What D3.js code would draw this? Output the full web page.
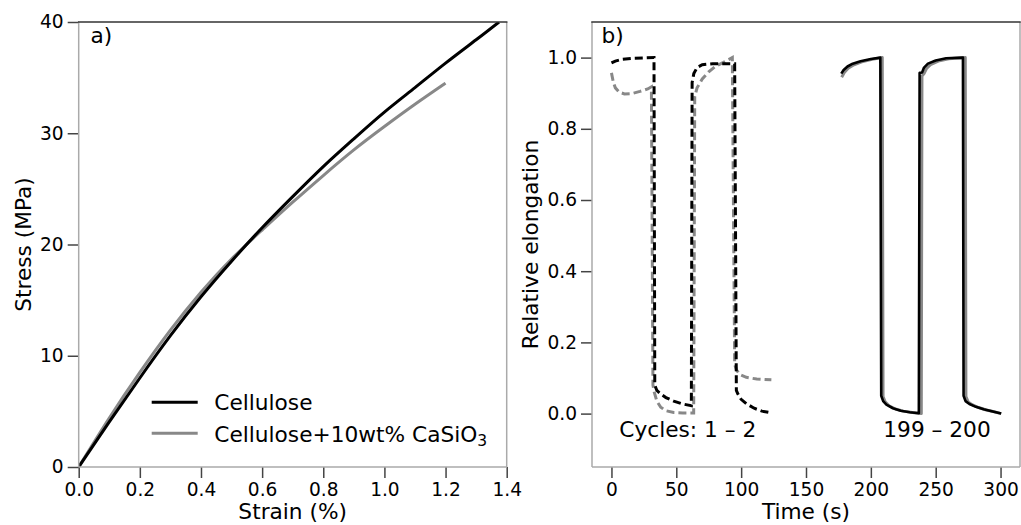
<!DOCTYPE html>
<html>
<head>
<meta charset="utf-8">
<script src="https://cdn.jsdelivr.net/npm/d3@7"></script>
<style>
body { margin: 0; background: #fff; }
svg { display: block; font-family: "DejaVu Sans", sans-serif; }
</style>
</head>
<body>
<svg id="chart" width="1021" height="525"></svg>
<script>
// ---- Panel a) data: stress-strain ----
const strainCell = [0, 0.1, 0.2, 0.3, 0.4, 0.5, 0.6, 0.7, 0.8, 0.9, 1.0, 1.1, 1.2, 1.3, 1.375];
const stressCell = [0, 4.05, 8.0, 11.8, 15.3, 18.5, 21.5, 24.3, 27.0, 29.5, 31.9, 34.1, 36.3, 38.4, 40.0];
const strainComp = [0, 0.1, 0.2, 0.3, 0.4, 0.5, 0.6, 0.7, 0.8, 0.9, 1.0, 1.1, 1.2];
const stressComp = [0, 4.4, 8.5, 12.3, 15.7, 18.7, 21.3, 23.8, 26.2, 28.5, 30.6, 32.6, 34.5];
const seriesNamesA = ["Cellulose", "Cellulose+10wt% CaSiO"];

const strainTicks = [0, 0.2, 0.4, 0.6, 0.8, 1.0, 1.2, 1.4];
const stressTicks = [0, 10, 20, 30, 40];

// ---- Panel b) data: relative elongation vs time ----
// cycles 1-2 (dashed)
const dashBlackT = [0, 3, 8, 16, 25, 32.8, 33.4, 35, 38, 42, 48, 55, 61.6, 62.2, 63.5, 66, 70, 78, 95, 96.3, 97.5, 100, 104, 110, 116, 123.3];
const dashBlackE = [0.985, 0.99, 0.995, 0.998, 0.999, 1.0, 0.08, 0.065, 0.055, 0.045, 0.035, 0.027, 0.022, 0.93, 0.955, 0.972, 0.98, 0.983, 0.983, 0.065, 0.055, 0.04, 0.028, 0.015, 0.007, 0.002];
const dashGrayT = [0, 1.5, 3, 6, 10, 16, 22, 28, 30.8, 32, 33, 35, 38, 42, 48, 55, 63.4, 64.2, 66, 70, 75, 80, 86, 93.2, 95, 96.5, 99, 104, 112, 123.3];
const dashGrayE = [0.957, 0.93, 0.915, 0.903, 0.898, 0.899, 0.905, 0.912, 0.918, 0.08, 0.06, 0.035, 0.018, 0.008, 0.003, 0.002, 0.002, 0.89, 0.915, 0.94, 0.96, 0.975, 0.986, 1.0, 0.138, 0.122, 0.11, 0.102, 0.097, 0.095];
// cycles 199-200 (solid)
const solidBlackT = [177.2, 179, 182, 186, 192, 200, 207.3, 208, 209.5, 212, 217, 223, 230, 237, 237.6, 239.5, 241, 244, 250, 258, 271, 271.5, 273, 276, 281, 287, 294, 300.5];
const solidBlackE = [0.955, 0.965, 0.975, 0.983, 0.99, 0.996, 1.0, 0.05, 0.035, 0.025, 0.015, 0.008, 0.004, 0.001, 0.957, 0.958, 0.972, 0.983, 0.992, 0.998, 1.0, 0.05, 0.035, 0.027, 0.019, 0.012, 0.006, 0.0];
const solidGrayT = [177.5, 179.5, 182.5, 187, 193, 201, 208.8, 209.4, 211, 214, 219, 225, 232, 238.9, 239.4, 241, 243, 246, 252, 260, 272.8, 273.3, 275, 278, 283, 289, 295, 300.5];
const solidGrayE = [0.945, 0.958, 0.97, 0.98, 0.988, 0.995, 1.0, 0.048, 0.033, 0.022, 0.013, 0.007, 0.003, 0.0, 0.948, 0.955, 0.97, 0.98, 0.99, 0.997, 1.0, 0.048, 0.033, 0.025, 0.017, 0.01, 0.005, 0.0];

const timeTicks = [0, 50, 100, 150, 200, 250, 300];
const elongTicks = [0, 0.2, 0.4, 0.6, 0.8, 1.0];
const annotB = ["Cycles: 1 \u2013 2", "199 \u2013 200"];

// ---- drawing ----
const svg = d3.select("#chart");
const BLACK = "#000", GRAY = "#888888";
const TOP = 22, BOTTOM = 467;
const TICK_FS = "18.6px", LABEL_FS = "21.7px";

function spines(g, x0, x1) {
  g.append("line").attr("x1", x0).attr("x2", x0).attr("y1", TOP).attr("y2", BOTTOM).attr("stroke", "#aaa").attr("stroke-width", 1.5);
  g.append("line").attr("x1", x1).attr("x2", x1).attr("y1", TOP).attr("y2", BOTTOM).attr("stroke", "#aaa").attr("stroke-width", 1.5);
  g.append("line").attr("x1", x0).attr("x2", x1).attr("y1", BOTTOM).attr("y2", BOTTOM).attr("stroke", "#aaa").attr("stroke-width", 1.5);
  g.append("line").attr("x1", x0 - 0.75).attr("x2", x1 + 0.75).attr("y1", TOP).attr("y2", TOP).attr("stroke", "#333").attr("stroke-width", 1.5);
}

function styleAxis(sel) {
  sel.select(".domain").remove();
  sel.selectAll(".tick line").attr("stroke", "#444").attr("stroke-width", 1.5);
  sel.selectAll(".tick text").attr("fill", "#000").style("font-size", TICK_FS).style("font-family", "DejaVu Sans, sans-serif");
}

// Panel a
const xa = d3.scaleLinear().domain([0, 1.4]).range([78.7, 506.7]);
const ya = d3.scaleLinear().domain([0, 40]).range([BOTTOM, TOP]);
const ga = svg.append("g");

svg.append("clipPath").attr("id", "clipA").append("rect")
  .attr("x", xa.range()[0]).attr("y", TOP).attr("width", xa.range()[1] - xa.range()[0]).attr("height", BOTTOM - TOP);

ga.append("g").attr("transform", `translate(0,${BOTTOM})`)
  .call(d3.axisBottom(xa).tickValues(strainTicks).tickFormat(d3.format(".1f")).tickSize(11).tickPadding(5).tickSizeOuter(0))
  .call(styleAxis);
ga.append("g").attr("transform", `translate(${xa.range()[0]},0)`)
  .call(d3.axisLeft(ya).tickValues(stressTicks).tickFormat(d3.format("d")).tickSize(11).tickPadding(4).tickSizeOuter(0))
  .call(styleAxis);

const lineA = d3.line().x(d => xa(d[0])).y(d => ya(d[1])).curve(d3.curveNatural);
const plotA = ga.append("g").attr("clip-path", "url(#clipA)");
plotA.append("path").datum(strainComp.map((s, i) => [s, stressComp[i]]))
  .attr("d", lineA).attr("fill", "none").attr("stroke", GRAY).attr("stroke-width", 3);
plotA.append("path").datum(strainCell.map((s, i) => [s, stressCell[i]]))
  .attr("d", lineA).attr("fill", "none").attr("stroke", BLACK).attr("stroke-width", 3);
spines(ga, xa.range()[0], xa.range()[1]);

// legend a
const leg = ga.append("g");
leg.append("line").attr("x1", 151.7).attr("x2", 197.7).attr("y1", 402.3).attr("y2", 402.3).attr("stroke", BLACK).attr("stroke-width", 3);
leg.append("line").attr("x1", 151.7).attr("x2", 197.7).attr("y1", 433.3).attr("y2", 433.3).attr("stroke", GRAY).attr("stroke-width", 3);
leg.append("text").attr("x", 214.3).attr("y", 410).style("font-size", LABEL_FS).text(seriesNamesA[0]);
const t2 = leg.append("text").attr("x", 214.3).attr("y", 442.2).style("font-size", LABEL_FS);
t2.append("tspan").text(seriesNamesA[1]);
t2.append("tspan").attr("dy", 4).style("font-size", "15.5px").text("3");

ga.append("text").attr("x", 90.5).attr("y", 43).style("font-size", LABEL_FS).text("a)");
ga.append("text").attr("x", (xa.range()[0] + xa.range()[1]) / 2).attr("y", 519).attr("text-anchor", "middle").style("font-size", LABEL_FS).text("Strain (%)");
ga.append("text").attr("transform", `translate(31,${(TOP + BOTTOM) / 2}) rotate(-90)`).attr("text-anchor", "middle").style("font-size", LABEL_FS).text("Stress (MPa)");

// Panel b
const xb = d3.scaleLinear().domain([-15, 315]).range([592, 1020]);
const yb = d3.scaleLinear().domain([-0.15, 1.1]).range([BOTTOM, TOP]);
const gb = svg.append("g");

gb.append("g").attr("transform", `translate(0,${BOTTOM})`)
  .call(d3.axisBottom(xb).tickValues(timeTicks).tickFormat(d3.format("d")).tickSize(11).tickPadding(5).tickSizeOuter(0))
  .call(styleAxis);
gb.append("g").attr("transform", `translate(${xb.range()[0]},0)`)
  .call(d3.axisLeft(yb).tickValues(elongTicks).tickFormat(d3.format(".1f")).tickSize(11).tickPadding(4).tickSizeOuter(0))
  .call(styleAxis);

const lineB = d3.line().x(d => xb(d[0])).y(d => yb(d[1])).curve(d3.curveLinear);
const zip = (t, e) => t.map((v, i) => [v, e[i]]);
gb.append("path").datum(zip(dashGrayT, dashGrayE)).attr("d", lineB).attr("fill", "none")
  .attr("stroke", GRAY).attr("stroke-width", 3).attr("stroke-dasharray", "8,4");
gb.append("path").datum(zip(dashBlackT, dashBlackE)).attr("d", lineB).attr("fill", "none")
  .attr("stroke", BLACK).attr("stroke-width", 3).attr("stroke-dasharray", "8,4");
gb.append("path").datum(zip(solidGrayT, solidGrayE)).attr("d", lineB).attr("fill", "none")
  .attr("stroke", GRAY).attr("stroke-width", 3).attr("stroke-linejoin", "round");
gb.append("path").datum(zip(solidBlackT, solidBlackE)).attr("d", lineB).attr("fill", "none")
  .attr("stroke", BLACK).attr("stroke-width", 2.6).attr("stroke-linejoin", "round");
spines(gb, xb.range()[0], xb.range()[1]);

gb.append("text").attr("x", 601.5).attr("y", 43).style("font-size", LABEL_FS).text("b)");
gb.append("text").attr("x", 619.3).attr("y", 437.3).style("font-size", LABEL_FS).text(annotB[0]);
gb.append("text").attr("x", 883.3).attr("y", 437.3).style("font-size", LABEL_FS).text(annotB[1]);
gb.append("text").attr("x", (xb.range()[0] + xb.range()[1]) / 2).attr("y", 519).attr("text-anchor", "middle").style("font-size", LABEL_FS).text("Time (s)");
gb.append("text").attr("transform", `translate(538,${(TOP + BOTTOM) / 2}) rotate(-90)`).attr("text-anchor", "middle").style("font-size", LABEL_FS).text("Relative elongation");
</script>
</body>
</html>
